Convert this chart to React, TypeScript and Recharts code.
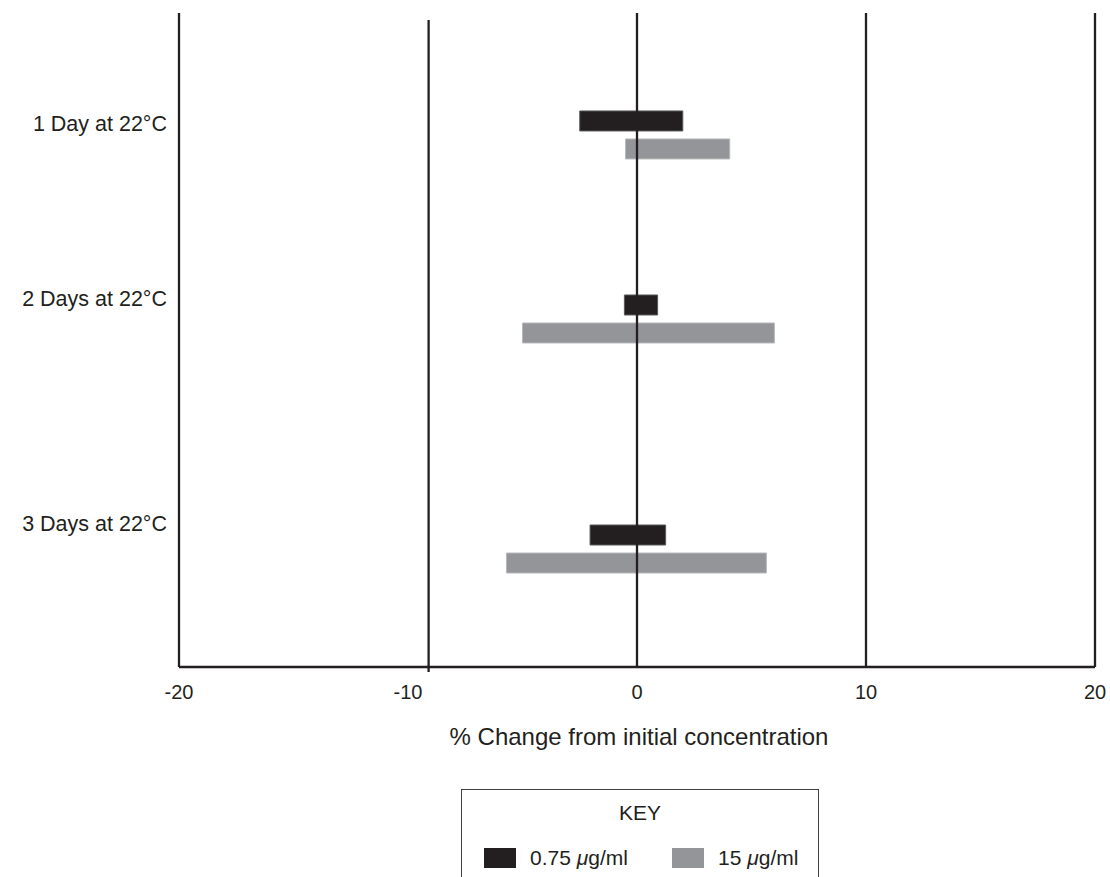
import React from 'react';
import { ComposedChart, Bar, XAxis, YAxis, ReferenceLine, Legend, Label } from 'recharts';

const INK = '#231f20';
const GREY = '#939598';
const FONT = '"Liberation Sans", Arial, Helvetica, sans-serif';

// storage conditions, top to bottom
const conditions = ['1 Day at 22°C', '2 Days at 22°C', '3 Days at 22°C'];
// row centres on a 0-100 scale running down the plot
const rowPos = [18.65, 46.79, 81.96];
// row label positions on the same scale
const labelPos = [16.8, 43.6, 78.0];

// % change from initial concentration, [low, high]
const lowConc: [number, number][] = [[-2.5, 2.0], [-0.55, 0.9], [-2.05, 1.25]];
const highConc: [number, number][] = [[-0.5, 4.05], [-5.0, 6.0], [-5.7, 5.65]];

const xTicks = [-20, -10, 0, 10, 20];
const gridX = [0, 10, 20];
// the -10 rule is drawn slightly off its tick and runs past the axis
const offRuleX = -9.1;
const offRuleY: [number, number] = [1.07, 100.76];

const rows = conditions.map((name, i) => ({
  name,
  pos: rowPos[i],
  low: lowConc[i],
  high: highConc[i],
}));

const XTick = ({ x, y, payload }: any) => (
  <text x={x} y={y + 32} textAnchor="middle" fontFamily={FONT} fontSize={20} fill={INK}>
    {payload.value}
  </text>
);

const YTick = ({ x, y, index }: any) => (
  <text x={x} y={y} dy="0.36em" textAnchor="end" fontFamily={FONT} fontSize={21.5} fill={INK}>
    {conditions[index]}
  </text>
);

const withMu = (s: string) => {
  const [a, b] = s.split('μ');
  return (
    <>
      {a}
      <span style={{ fontStyle: 'italic' }}>μ</span>
      {b}
    </>
  );
};

const itemLeft = [22, 210];

const KeyBox = ({ payload }: any) => (
  <div
    style={{
      position: 'relative',
      boxSizing: 'border-box',
      width: 358,
      height: 88,
      border: '1.5px solid #414042',
      borderBottom: 'none',
      background: '#fff',
      fontFamily: FONT,
      color: INK,
    }}
  >
    <div style={{ position: 'absolute', left: 0, right: 0, top: 11, textAlign: 'center', fontSize: 21, lineHeight: '24px' }}>
      KEY
    </div>
    {(payload || []).map((entry: any, i: number) => (
      <div key={entry.value} style={{ position: 'absolute', left: itemLeft[i], top: 57, display: 'flex', alignItems: 'center' }}>
        <span style={{ display: 'inline-block', width: 32, height: 20, background: entry.color }} />
        <span style={{ marginLeft: 14, fontSize: 21, lineHeight: '22px' }}>{withMu(entry.value)}</span>
      </div>
    ))}
  </div>
);

export default function App() {
  return (
    <div style={{ position: 'absolute', left: 0, top: 0, width: 1110, height: 877, background: '#fff' }}>
      <ComposedChart
        width={1110}
        height={877}
        layout="vertical"
        data={rows}
        margin={{ top: 13, right: 15, bottom: 0, left: 9 }}
        barGap={8}
      >
        <XAxis
          type="number"
          domain={[-20, 20]}
          ticks={xTicks}
          height={210}
          tickSize={0}
          tickMargin={0}
          tick={<XTick />}
          axisLine={{ stroke: INK, strokeWidth: 2.3 }}
          tickLine={false}
        >
          <Label
            content={({ viewBox }: any) => (
              <text
                x={viewBox.x + viewBox.width / 2 + 2}
                y={viewBox.y + 78}
                textAnchor="middle"
                fontFamily={FONT}
                fontSize={24}
                fill={INK}
              >
                % Change from initial concentration
              </text>
            )}
          />
        </XAxis>
        <YAxis
          type="number"
          dataKey="pos"
          domain={[0, 100]}
          ticks={labelPos}
          width={170}
          tickSize={0}
          tickMargin={12}
          tick={<YTick />}
          axisLine={{ stroke: INK, strokeWidth: 2.3 }}
          tickLine={false}
        />
        {gridX.map((v) => (
          <ReferenceLine key={v} x={v} stroke={INK} strokeWidth={2.3} />
        ))}
        <ReferenceLine
          segment={[
            { x: offRuleX, y: offRuleY[0] },
            { x: offRuleX, y: offRuleY[1] },
          ]}
          ifOverflow="visible"
          stroke={INK}
          strokeWidth={2.3}
        />
        <Bar dataKey="low" name="0.75 μg/ml" fill={INK} stroke="#58595b" strokeWidth={1} barSize={20} isAnimationActive={false} />
        <Bar dataKey="high" name="15 μg/ml" fill={GREY} stroke="#b8b9bb" strokeWidth={1} barSize={20} isAnimationActive={false} />
        <Legend
          layout="horizontal"
          align="center"
          verticalAlign="middle"
          content={<KeyBox />}
          wrapperStyle={{ left: 461, top: 789, width: 358, height: 88 }}
        />
      </ComposedChart>
    </div>
  );
}
